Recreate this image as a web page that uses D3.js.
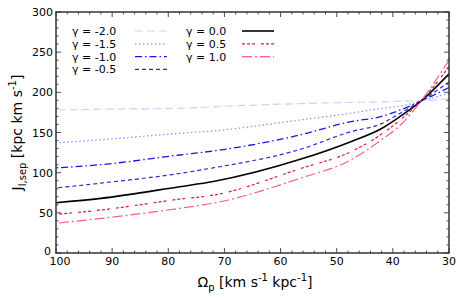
<!DOCTYPE html>
<html>
<head>
<meta charset="utf-8">
<script src="https://d3js.org/d3.v7.min.js"></script>
<style>
body{margin:0;background:#fff;}
svg text{font-family:"DejaVu Sans",sans-serif;fill:#000;}
</style>
</head>
<body>
<div id="chart"></div>
<script>
// pattern speed values (km s^-1 kpc^-1)
var omega = [100, 92, 78, 72, 56.5, 47.5, 42, 38.7, 35, 30];

// J_l,sep for each gamma
var gM20 = [178, 179, 180, 182, 186, 187.5, 188, 189, 189.5, 192];
var gM15 = [137, 141, 149, 152, 165.6, 174, 180, 183, 189, 199];
var gM10 = [106, 110, 122, 127, 147, 163.5, 170, 178, 189, 206];
var gM05 = [81, 87, 99, 106, 129, 151, 161, 174, 189, 213];
var g00  = [62.6, 68, 82.5, 89, 116.6, 138.6, 155, 170, 189, 223];
var g05  = [48, 53.5, 67, 72, 105, 126, 148, 165.6, 189, 232];
var g10  = [37, 43, 55.6, 62, 93, 115.8, 141, 159, 189, 240];

var labels = ["γ = -2.0", "γ = -1.5", "γ = -1.0", "γ = -0.5", "γ = 0.0", "γ = 0.5", "γ = 1.0"];
var seriesVals = [gM20, gM15, gM10, gM05, g00, g05, g10];

var xTicks = [100, 90, 80, 70, 60, 50, 40, 30];
var yTicks = [0, 50, 100, 150, 200, 250, 300];

var styles = [
  {color:"#c4d6fa", dash:"8,4", w:1.2},
  {color:"#8c8cff", dash:"1.5,2.5", w:1.2},
  {color:"#1515f0", dash:"7,3,1.5,3", w:1.3},
  {color:"#2a2ad0", dash:"4,3", w:1.2},
  {color:"#000000", dash:null, w:1.6},
  {color:"#d4184a", dash:"3,2,3,2,3,6", w:1.2},
  {color:"#ff5c8d", dash:"10,3,2,3", w:1.2}
];

var width = 463, height = 298;
var margin = {top:12, right:14, bottom:45, left:56};
var gw = width - margin.left - margin.right;
var gh = height - margin.top - margin.bottom;

var svg = d3.select("#chart").append("svg")
  .attr("width", width).attr("height", height);
var g = svg.append("g").attr("transform", "translate(" + margin.left + "," + margin.top + ")");

var x = d3.scaleLinear().domain([100, 30]).range([0, gw]);
var y = d3.scaleLinear().domain([0, 300]).range([gh, 0]);

// curves
var line = d3.line()
  .x(function(d){ return x(d[0]); })
  .y(function(d){ return y(d[1]); })
  .curve(d3.curveMonotoneX);

seriesVals.forEach(function(vals, i){
  var pts = omega.map(function(o, j){ return [o, vals[j]]; });
  pts.reverse();
  g.append("path")
    .attr("d", line(pts))
    .attr("fill", "none")
    .attr("stroke", styles[i].color)
    .attr("stroke-width", styles[i].w)
    .attr("stroke-dasharray", styles[i].dash);
});

// ticks, all pointing inward on four sides
var tk = g.append("g").attr("stroke", "#222").attr("stroke-width", 0.8);
d3.range(30, 101, 2).forEach(function(v){
  var major = v % 10 === 0, len = major ? 5 : 2.5;
  tk.append("line").attr("x1", x(v)).attr("x2", x(v)).attr("y1", gh).attr("y2", gh - len);
  tk.append("line").attr("x1", x(v)).attr("x2", x(v)).attr("y1", 0).attr("y2", len);
});
d3.range(0, 301, 10).forEach(function(v){
  var major = v % 50 === 0, len = major ? 5 : 2.5;
  tk.append("line").attr("y1", y(v)).attr("y2", y(v)).attr("x1", 0).attr("x2", len);
  tk.append("line").attr("y1", y(v)).attr("y2", y(v)).attr("x1", gw).attr("x2", gw - len);
});

g.append("rect").attr("width", gw).attr("height", gh)
  .attr("fill", "none").attr("stroke", "#333").attr("stroke-width", 1.5);

// tick labels (first x label nudged right so it clears the "0")
g.selectAll(".xl").data(xTicks).enter().append("text")
  .attr("x", function(d){ return x(d) + (d === 100 ? 4 : 0); }).attr("y", gh + 12)
  .attr("text-anchor", "middle").attr("font-size", 11)
  .text(function(d){ return d; });
g.selectAll(".yl").data(yTicks).enter().append("text")
  .attr("x", function(d){ return d === 0 ? -5 : -3; }).attr("y", function(d){ return y(d) + (d === 0 ? 2 : 4); })
  .attr("text-anchor", "end").attr("font-size", 11)
  .text(function(d){ return d; });

// axis titles
var xt = svg.append("text").attr("x", 255).attr("y", 287)
  .attr("text-anchor", "middle").attr("font-size", 14);
xt.append("tspan").text("Ω");
xt.append("tspan").attr("font-size", 10).attr("dy", 4).text("p");
xt.append("tspan").attr("dy", -4).text(" [km s");
xt.append("tspan").attr("font-size", 10).attr("dy", -6).text("-1");
xt.append("tspan").attr("dy", 6).text(" kpc");
xt.append("tspan").attr("font-size", 10).attr("dy", -6).text("-1");
xt.append("tspan").attr("dy", 6).text("]");

var yt = svg.append("text")
  .attr("transform", "translate(22," + (margin.top + gh / 2) + ") rotate(-90)")
  .attr("text-anchor", "middle").attr("font-size", 14);
yt.append("tspan").text("J");
yt.append("tspan").attr("font-size", 10).attr("dy", 4).text("l,sep");
yt.append("tspan").attr("dy", -4).text(" [kpc km s");
yt.append("tspan").attr("font-size", 10).attr("dy", -6).text("-1");
yt.append("tspan").attr("dy", 6).text("]");

// legend: two columns
labels.forEach(function(lab, i){
  var col = i < 4 ? 0 : 1, row = i < 4 ? i : i - 4;
  var lx = col === 0 ? 72 : 186, ly = 35 + row * 12.8;
  var lineX = col === 0 ? 135 : 242;
  svg.append("text").attr("x", lx).attr("y", ly).attr("font-size", 11)
    .text(lab);
  svg.append("line").attr("x1", lineX).attr("x2", lineX + 32)
    .attr("y1", ly - 4).attr("y2", ly - 4)
    .attr("stroke", styles[i].color).attr("stroke-width", styles[i].w)
    .attr("stroke-dasharray", styles[i].dash);
});
</script>
</body>
</html>
